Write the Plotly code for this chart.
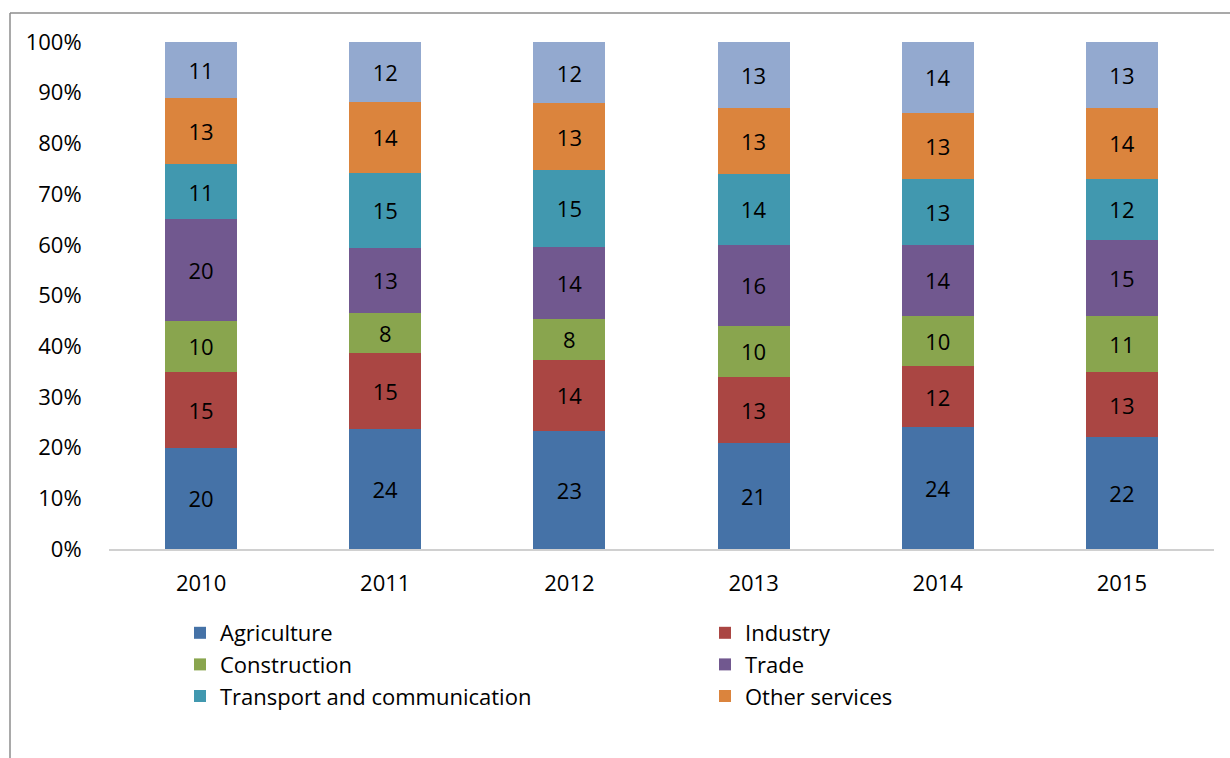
import plotly.graph_objects as go

# Employment structure by sector, 2010-2015 (shares, %)
years = ["2010", "2011", "2012", "2013", "2014", "2015"]

agriculture = [20, 24, 23, 21, 24, 22]
industry = [15, 15, 14, 13, 12, 13]
construction = [10, 8, 8, 10, 10, 11]
trade = [20, 13, 14, 16, 14, 15]
transport = [11, 15, 15, 14, 13, 12]
other_services = [13, 14, 13, 13, 13, 14]
remainder = [11, 12, 12, 13, 14, 13]

series = [
    ("Agriculture", agriculture, "#4572A7", "legend"),
    ("Industry", industry, "#AA4643", "legend2"),
    ("Construction", construction, "#89A54E", "legend"),
    ("Trade", trade, "#71588F", "legend2"),
    ("Transport and communication", transport, "#4198AF", "legend"),
    ("Other services", other_services, "#DB843D", "legend2"),
]

FONT = "Open Sans"
FS = 22
fig = go.Figure()

for name, vals, color, leg in series:
    fig.add_trace(go.Bar(
        x=years, y=vals, name=name,
        marker=dict(color=color, line=dict(width=0)),
        text=vals, texttemplate="%{text}",
        textposition="inside", insidetextanchor="middle", textangle=0,
        textfont=dict(family=FONT, size=FS, color="#000000"),
        legend=leg, legendgroup=name,
    ))

fig.add_trace(go.Bar(
    x=years, y=remainder, name="",
    marker=dict(color="#93A9CF", line=dict(width=0)),
    text=remainder, texttemplate="%{text}",
    textposition="inside", insidetextanchor="middle", textangle=0,
    textfont=dict(family=FONT, size=FS, color="#000000"),
    showlegend=False,
))

# plot area spans x 109..1214 px, y 42..549 px
L, R, T, B = 109, 16, 42, 209
W = 1230 - L - R
H = 758 - T - B

def px_x(px):
    return (px - L) / W

def px_y(py):
    return (758 - B - py) / H

legend_common = dict(
    orientation="v", traceorder="normal",
    font=dict(family=FONT, size=FS, color="#000000"),
    bgcolor="rgba(0,0,0,0)", borderwidth=0,
    xanchor="left", yanchor="top",
    tracegroupgap=7, itemwidth=30,
)

fig.update_layout(
    width=1230, height=758,
    margin=dict(l=L, r=R, t=T, b=B),
    paper_bgcolor="white", plot_bgcolor="white",
    barmode="stack", barnorm="percent", bargap=0.609,
    font=dict(family=FONT, size=FS, color="#000000"),
    legend=dict(**legend_common, x=px_x(180), y=px_y(612)),
    legend2=dict(**legend_common, x=px_x(705), y=px_y(612)),
    xaxis=dict(
        showgrid=False, zeroline=False,
        showline=True, linecolor="#D0D0D0", linewidth=2,
        ticks="outside", ticklen=14, tickcolor="rgba(0,0,0,0)",
        tickfont=dict(family=FONT, size=FS, color="#000000"),
    ),
    yaxis=dict(
        range=[0, 100], dtick=10, ticksuffix="%",
        showgrid=False, zeroline=False, showline=False,
        ticks="outside", ticklen=22, tickcolor="rgba(0,0,0,0)",
        tickfont=dict(family=FONT, size=FS, color="#000000"),
    ),
    shapes=[
        dict(type="line", xref="paper", yref="paper",
             x0=px_x(10), x1=px_x(10), y0=px_y(13), y1=px_y(770),
             line=dict(color="#8C8C8C", width=1.5)),
        dict(type="line", xref="paper", yref="paper",
             x0=px_x(10), x1=px_x(1240), y0=px_y(13), y1=px_y(13),
             line=dict(color="#8C8C8C", width=1.5)),
    ],
)

fig.write_html("out.html")
